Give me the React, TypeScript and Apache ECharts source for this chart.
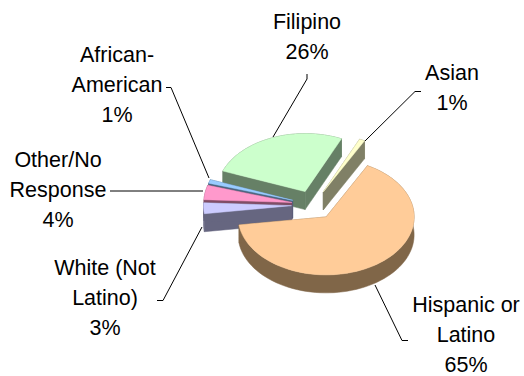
import React, { useEffect, useRef } from "react";
import * as echarts from "echarts";

// Ethnic make-up as percentage shares, listed clockwise from the upper right.
const categories = ["Hispanic or Latino", "White (Not Latino)", "Other/No Response", "African-American", "Filipino", "Asian"];
const shares = [65, 3, 4, 1, 26, 1];
const labelLines = [
  ["Hispanic or", "Latino"],
  ["White (Not", "Latino)"],
  ["Other/No", "Response"],
  ["African-", "American"],
  ["Filipino"],
  ["Asian"],
];
const topColors = ["#FFCC99", "#CCCCFF", "#FF99CC", "#99CCFF", "#CCFFCC", "#FFFFCC"];
const sideColors = ["#806648", "#666680", "#804D66", "#4D6680", "#668066", "#808066"];

// Label anchors (centre of the text block) and their leader lines.
const labelAnchors = [
  [466, 335],
  [105, 298],
  [58, 190],
  [117, 85],
  [307, 37],
  [452, 88],
];
const leaders = [
  [[408, 340.5], [402, 340.5], [375, 285]],
  [[157, 300.5], [163, 300.5], [202, 227]],
  [[110, 191], [203, 191]],
  [[166, 87.5], [171, 87.5], [209, 178]],
  [[307, 74], [307, 79], [273, 137]],
  [[421, 91.5], [415, 91.5], [365, 141]],
];

// Tilted-pie geometry.
const CENTER_X = 313.5;
const CENTER_Y = 205;
const RADIUS_X = 88;
const RADIUS_Y = 58;
const DEPTH = 18;
const EXPLODE = 0.25;
const START_ANGLE = 28;
const FONT = '21.5px "Liberation Sans", Arial, sans-serif';
const LINE_STEP = 30;

type Pt = [number, number];

const total = shares.reduce((a, b) => a + b, 0);
const rad = (deg: number) => (deg * Math.PI) / 180;

// Each slice runs clockwise from its start angle; 0 degrees points up the screen.
const slices = shares.map((share, i) => {
  const before = shares.slice(0, i).reduce((a, b) => a + b, 0);
  const t0 = START_ANGLE + (before / total) * 360;
  const t1 = t0 + (share / total) * 360;
  const mid = rad((t0 + t1) / 2);
  return {
    t0,
    t1,
    cx: CENTER_X + EXPLODE * RADIUS_X * Math.sin(mid),
    cy: CENTER_Y - EXPLODE * RADIUS_Y * Math.cos(mid),
  };
});

// Paint from the back of the pie towards the viewer.
const drawOrder = slices.map((_, i) => i).sort((a, b) => slices[a].cy - slices[b].cy);

function arcPoints(cx: number, cy: number, t0: number, t1: number): Pt[] {
  const steps = Math.max(2, Math.ceil((t1 - t0) / 3));
  const pts: Pt[] = [];
  for (let k = 0; k <= steps; k++) {
    const t = rad(t0 + ((t1 - t0) * k) / steps);
    pts.push([cx + RADIUS_X * Math.sin(t), cy - RADIUS_Y * Math.cos(t)]);
  }
  return pts;
}

const shifted = (pts: Pt[]): Pt[] => pts.map(([x, y]) => [x, y + DEPTH] as Pt);

function renderSlice(_params: any, api: any) {
  const i = api.value(0) as number;
  const { t0, t1, cx, cy } = slices[i];
  const arc = arcPoints(cx, cy, t0, t1);
  const apex: Pt = [cx, cy];
  const poly = (points: Pt[], fill: string) => ({
    type: "polygon",
    shape: { points },
    style: { fill, stroke: fill, lineWidth: 0.5 },
  });
  const wall = (edge: Pt) => poly([apex, edge, [edge[0], edge[1] + DEPTH], [apex[0], apex[1] + DEPTH]], sideColors[i]);
  return {
    type: "group",
    children: [
      poly([...arc, ...shifted(arc).reverse()], sideColors[i]),
      wall(arc[0]),
      wall(arc[arc.length - 1]),
      poly([apex, ...arc], topColors[i]),
    ],
  };
}

// One text element per line, so each line keeps a tight box of its own.
const labelTexts = labelLines.flatMap((lines, i) => {
  const rows = [...lines, `${shares[i]}%`];
  return rows.map((text, k) => ({
    type: "text",
    silent: true,
    z: 11,
    x: labelAnchors[i][0],
    y: labelAnchors[i][1] + (k - (rows.length - 1) / 2) * LINE_STEP,
    style: {
      text,
      font: FONT,
      lineHeight: 16,
      fill: "#000000",
      align: "center",
      verticalAlign: "middle",
    },
  }));
});

export default function App() {
  const ref = useRef<HTMLDivElement>(null);

  useEffect(() => {
    const chart = echarts.init(ref.current!, undefined, { renderer: "svg" });
    chart.setOption({
      animation: false,
      backgroundColor: "#ffffff",
      series: [
        {
          type: "custom",
          name: "Share",
          coordinateSystem: "none",
          silent: true,
          renderItem: renderSlice,
          data: drawOrder.map((i) => ({ name: categories[i], value: [i, shares[i]] })),
        },
      ],
      graphic: [
        ...leaders.map((points) => ({
          type: "polyline",
          silent: true,
          z: 10,
          shape: { points },
          style: { stroke: "#000000", lineWidth: 1, fill: "none" },
        })),
        ...labelTexts,
      ],
    });
    return () => chart.dispose();
  }, []);

  return <div ref={ref} style={{ position: "absolute", left: 0, top: 0, width: 524, height: 376 }} />;
}
